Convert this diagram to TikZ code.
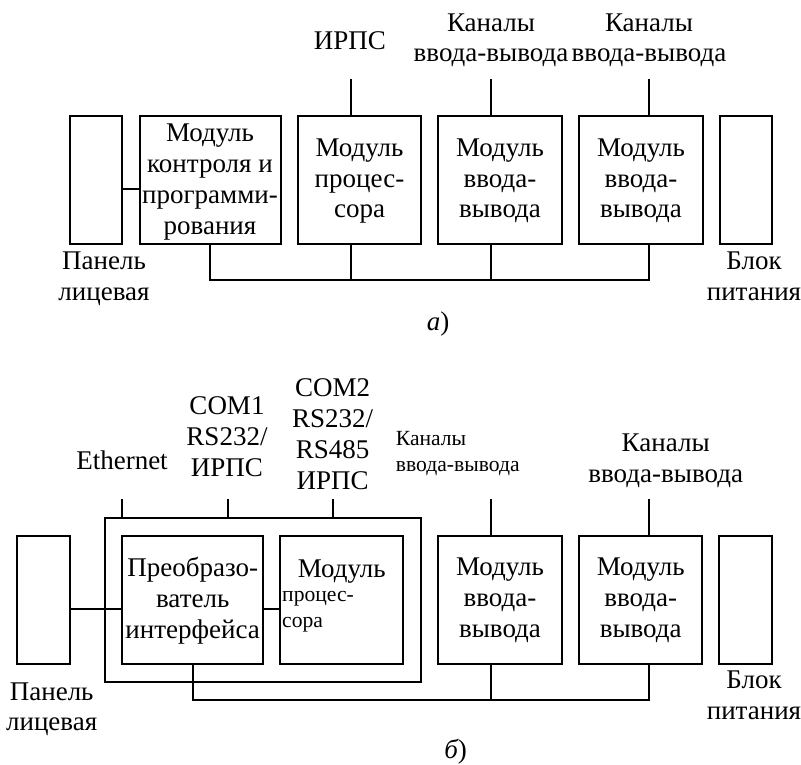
\documentclass[tikz,border=0pt]{standalone}
\usepackage{fontspec}
\setmainfont{Liberation Serif}
\begin{document}
\begin{tikzpicture}[x=1pt,y=-1pt,
 box/.style={draw,line width=2pt,inner sep=0pt,outer sep=0pt,anchor=north west},
 lab/.style={font=\fontsize{27}{30.7}\selectfont,align=center,inner sep=0pt,anchor=base},
 small/.style={font=\fontsize{21.6}{25.5}\selectfont,align=left,inner sep=0pt,anchor=base west},
 wire/.style={draw,line width=1.8pt}]
\useasboundingbox (0,0) rectangle (801,765);
% ---- a) ----
\node[box,minimum width=52.5pt,minimum height=127.5pt] (p1) at (69.5,116) {};
\node[box,minimum width=141pt,minimum height=127.5pt] (m1) at (139.7,116) {};
\node[box,minimum width=123pt,minimum height=127.5pt] (m2) at (298,116) {};
\node[box,minimum width=123.7pt,minimum height=127.5pt] (m3) at (438.3,116) {};
\node[box,minimum width=123.7pt,minimum height=127.5pt] (m4) at (579,116) {};
\node[box,minimum width=52.6pt,minimum height=127.5pt] (b1) at (719.7,116) {};
\node[lab] (m1t) at (210,234) {Модуль\\контроля и\\программи-\\рования};
\node[lab] (m2t) at (359.5,218) {Модуль\\процес-\\сора};
\node[lab] (m3t) at (500,218) {Модуль\\ввода-\\вывода};
\node[lab] (m4t) at (641,218) {Модуль\\ввода-\\вывода};
\coordinate (t2) at (351,79); \coordinate (t3) at (491,79); \coordinate (t4) at (649,79);
\draw[wire] (t2) -- (t2 |- m2.north);
\draw[wire] (t3) -- (t3 |- m3.north);
\draw[wire] (t4) -- (t4 |- m4.north);
\draw[wire] (p1.east |- 0,189) -- (m1.west |- 0,189);
\coordinate (busl) at (210,280); \coordinate (busr) at (649,280);
\draw[wire] (busl |- m1.south) -- (busl) -- (busr) -- (busr |- m4.south);
\draw[wire] (t2 |- m2.south) -- (t2 |- busl);
\draw[wire] (t3 |- m3.south) -- (t3 |- busl);
\node[lab] (l1) at (350,50) {ИРПС};
\node[lab] (l2) at (491,62) {Каналы\\ввода-вывода};
\node[lab] (l3) at (649,62) {Каналы\\ввода-вывода};
\node[lab] (l4) at (104,300) {Панель\\лицевая};
\node[lab] (l5) at (754,300) {Блок\\питания};
\node[lab] (cap1) at (438,330) {\itshape а\upshape )};
% ---- б) ----
\node[box,minimum width=53pt,minimum height=128pt] (p2) at (16.7,535.7) {};
\node[box,minimum width=316.3pt,minimum height=164.3pt] (o) at (104.7,517.7) {};
\node[box,minimum width=140.4pt,minimum height=128pt] (c) at (122.3,535.7) {};
\node[box,minimum width=123.3pt,minimum height=128pt] (d) at (280,535.7) {};
\node[box,minimum width=123.7pt,minimum height=128pt] (m5) at (438.3,535.7) {};
\node[box,minimum width=123.3pt,minimum height=128pt] (m6) at (578.7,535.7) {};
\node[box,minimum width=53pt,minimum height=128pt] (b2) at (719.3,535.7) {};
\node[lab] (ct) at (192.7,638) {Преобразо-\\ватель\\интерфейса};
\node[lab] (dt) at (341.7,577) {Модуль};
\node[small] (dt2) at (282,627) {процес-\\сора};
\node[lab] (m5t) at (500,637) {Модуль\\ввода-\\вывода};
\node[lab] (m6t) at (640.7,637) {Модуль\\ввода-\\вывода};
\coordinate (e) at (122,499); \coordinate (f) at (228,499); \coordinate (g) at (333,499);
\draw[wire] (e) -- (e |- o.north);
\draw[wire] (f) -- (f |- o.north);
\draw[wire] (g) -- (g |- o.north);
\coordinate (t5) at (491,499); \coordinate (t6) at (649,499);
\draw[wire] (t5) -- (t5 |- m5.north);
\draw[wire] (t6) -- (t6 |- m6.north);
\draw[wire] (p2.east |- 0,609) -- (c.west |- 0,609);
\draw[wire] (c.east |- 0,609) -- (d.west |- 0,609);
\coordinate (bus2l) at (193,700); \coordinate (bus2r) at (649,700);
\draw[wire] (bus2l |- c.south) -- (bus2l) -- (bus2r) -- (bus2r |- m6.south);
\draw[wire] (t5 |- m5.south) -- (t5 |- bus2l);
\node[lab] (l6) at (122,469) {Ethernet};
\node[lab] (l7) at (227,476) {COM1\\RS232/\\ИРПС};
\node[lab] (l8) at (332.7,489) {COM2\\RS232/\\RS485\\ИРПС};
\node[small] (l9) at (395.7,471) {Каналы\\ввода-вывода};
\node[lab] (l10) at (665.7,482) {Каналы\\ввода-вывода};
\node[lab] (l11) at (51.7,730.7) {Панель\\лицевая};
\node[lab] (l12) at (754,719) {Блок\\питания};
\node[lab] (cap2) at (455.7,758) {\itshape б\upshape )};
\end{tikzpicture}
\end{document}
